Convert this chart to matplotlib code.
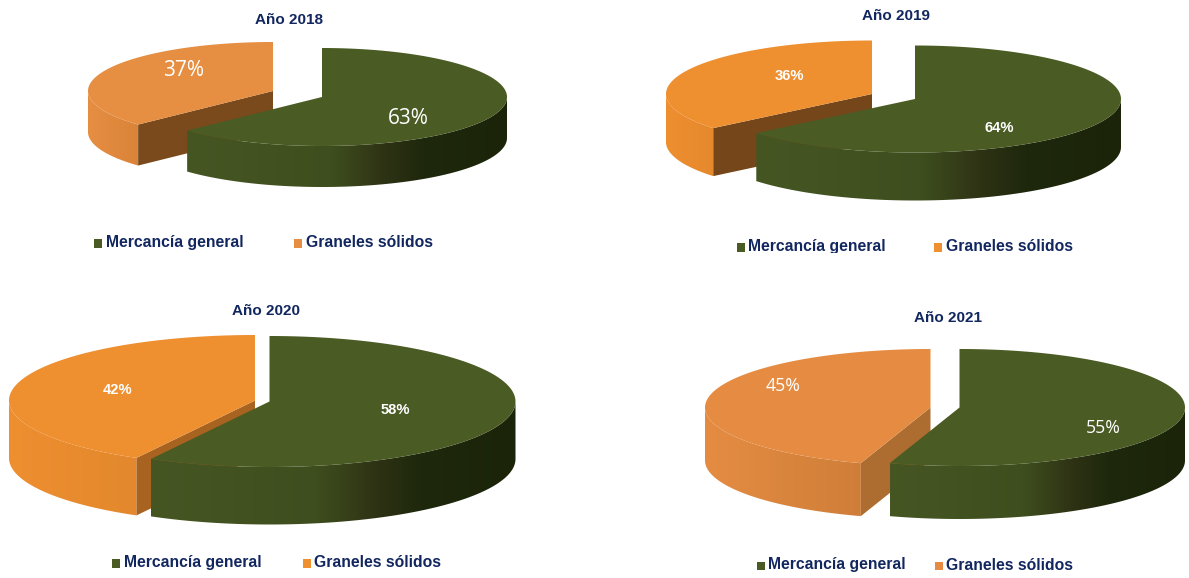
import numpy as np
import matplotlib
matplotlib.use("Agg")
import matplotlib.pyplot as plt
from matplotlib.colors import LinearSegmentedColormap
from matplotlib.patches import Polygon, Rectangle

# Cargo shares per year (percent)
years = [2018, 2019, 2020, 2021]
mercancia_general = [63, 64, 58, 55]
graneles_solidos = [37, 36, 42, 45]
series_names = ["Mercancía general", "Graneles sólidos"]

# Panel geometry in pixels: wedge apexes, ellipse radii and wall height
green_apex = [(322, 97), (915, 99), (269.5, 401.5), (959.5, 407.5)]
orange_apex = [(273, 91), (872, 94), (255, 400.5), (930.5, 407.5)]
radii = [(185, 49), (206, 53.5), (246, 65.5), (225.5, 58.5)]
wall = [41, 48, 57.5, 53]

# Colours per panel
GREEN = "#4B5B24"
orange_top = ["#E68E42", "#EE8F30", "#EE8F30", "#E58C42"]
orange_wall_end = ["#DA8439", "#E5892D", "#E3882D", "#CF7E39"]
orange_cut = ["#7A4A1C", "#75461A", "#A96320", "#AD6D30"]
NAVY = "#12275F"

# Text placement per panel
title_xy = [(288.7, 20), (895.7, 15.5), (266.5, 311), (948.3, 317.5)]
green_label_xy = [(408.5, 118), (999, 127.5), (395.5, 410.5), (1103.3, 428)]
orange_label_xy = [(184, 70), (789, 76), (117.6, 390), (783.3, 386)]
label_bold = [False, True, True, False]
legend_y = [242.5, 246.5, 562.5, 565]
legend_green_x = [94, 737, 112, 757]
legend_orange_x = [294, 934, 303, 935]

green_wall_cmap = LinearSegmentedColormap.from_list(
    "green_wall",
    [(0.0, "#465623"), (0.45, "#3E4E1E"), (0.62, "#2E3214"),
     (0.74, "#1E280C"), (1.0, "#1B2409")],
)

fig = plt.figure(figsize=(11.89, 5.78), dpi=100, facecolor="white")
ax = fig.add_axes([0, 0, 1, 1])
W, H = 1189, 578


def arc(apex, r, a0, a1, drop=0.0, n=160):
    """Rim points between two clockwise-from-top angles in degrees."""
    t = np.radians(np.linspace(a0, a1, n))
    return np.column_stack(
        (apex[0] + r[0] * np.sin(t), apex[1] - r[1] * np.cos(t) + drop)
    )


def shaded_wall(apex, r, a0, a1, h, cmap, z):
    """Outer wall of a wedge, shaded left to right by a clipped gradient."""
    pts = np.vstack((arc(apex, r, a0, a1), arc(apex, r, a1, a0, drop=h)))
    outline = Polygon(pts, closed=True, facecolor="none", edgecolor="none", zorder=z)
    ax.add_patch(outline)
    x0, x1 = pts[:, 0].min(), pts[:, 0].max()
    y0, y1 = pts[:, 1].min() - 3, pts[:, 1].max() + 3
    img = ax.imshow(
        np.linspace(0, 1, 256)[None, :],
        extent=(x0, x1, y1, y0),
        cmap=cmap,
        vmin=0,
        vmax=1,
        aspect="auto",
        interpolation="bilinear",
        zorder=z,
    )
    img.set_clip_path(outline)


for i, year in enumerate(years):
    r = radii[i]
    h = wall[i]
    split = 360 * mercancia_general[i] / (mercancia_general[i] + graneles_solidos[i])

    # Orange wedge: outer wall, cut face, then top
    oa = orange_apex[i]
    cmap_o = LinearSegmentedColormap.from_list(
        f"orange_wall_{year}", [orange_top[i], orange_wall_end[i]]
    )
    shaded_wall(oa, r, split, 270, h, cmap_o, 2 + i * 0.01)
    rim = arc(oa, r, split, split, n=1)[0]
    ax.add_patch(Polygon(
        [oa, rim, (rim[0], rim[1] + h), (oa[0], oa[1] + h)],
        closed=True, facecolor=orange_cut[i], edgecolor="none", zorder=3,
    ))
    ax.add_patch(Polygon(
        np.vstack(([oa], arc(oa, r, split, 360))),
        closed=True, facecolor=orange_top[i], edgecolor="none", zorder=4,
    ))

    # Green wedge: outer wall, then top
    ga = green_apex[i]
    shaded_wall(ga, r, 90, split, h, green_wall_cmap, 5)
    ax.add_patch(Polygon(
        np.vstack(([ga], arc(ga, r, 0, split))),
        closed=True, facecolor=GREEN, edgecolor="none", zorder=6,
    ))

    # Value labels
    if label_bold[i]:
        style = dict(family="Liberation Sans", fontweight="bold", fontsize=10.6)
    else:
        style = dict(family="Open Sans", fontsize=15 if i == 0 else 12.7)
    ax.text(*green_label_xy[i], f"{mercancia_general[i]}%", color="white",
            ha="center", va="center", zorder=7, **style)
    ax.text(*orange_label_xy[i], f"{graneles_solidos[i]}%", color="white",
            ha="center", va="center", zorder=7, **style)

    # Panel title
    ax.text(*title_xy[i], f"Año {year}", color=NAVY, family="Liberation Sans",
            fontweight="bold", fontsize=11, ha="center", va="center")

    # Legend entries
    ly = legend_y[i]
    for mx, name, colour in (
        (legend_green_x[i], series_names[0], GREEN),
        (legend_orange_x[i], series_names[1], orange_top[i]),
    ):
        ax.add_patch(Rectangle((mx, ly - 3.5), 8, 8.5, facecolor=colour, edgecolor="none"))
        ax.text(mx + 11.5, ly, name, color=NAVY, family="Liberation Sans",
                fontweight="bold", fontsize=11.3, ha="left", va="center", zorder=1)

# The 2019 legend row is trimmed along its lower edge
ax.add_patch(Rectangle((730, 252.5), 350, 6, facecolor="white", edgecolor="none", zorder=1.5))

ax.set_xlim(0, W)
ax.set_ylim(H, 0)
ax.axis("off")
fig.savefig("out.png", dpi=100, facecolor="white")
